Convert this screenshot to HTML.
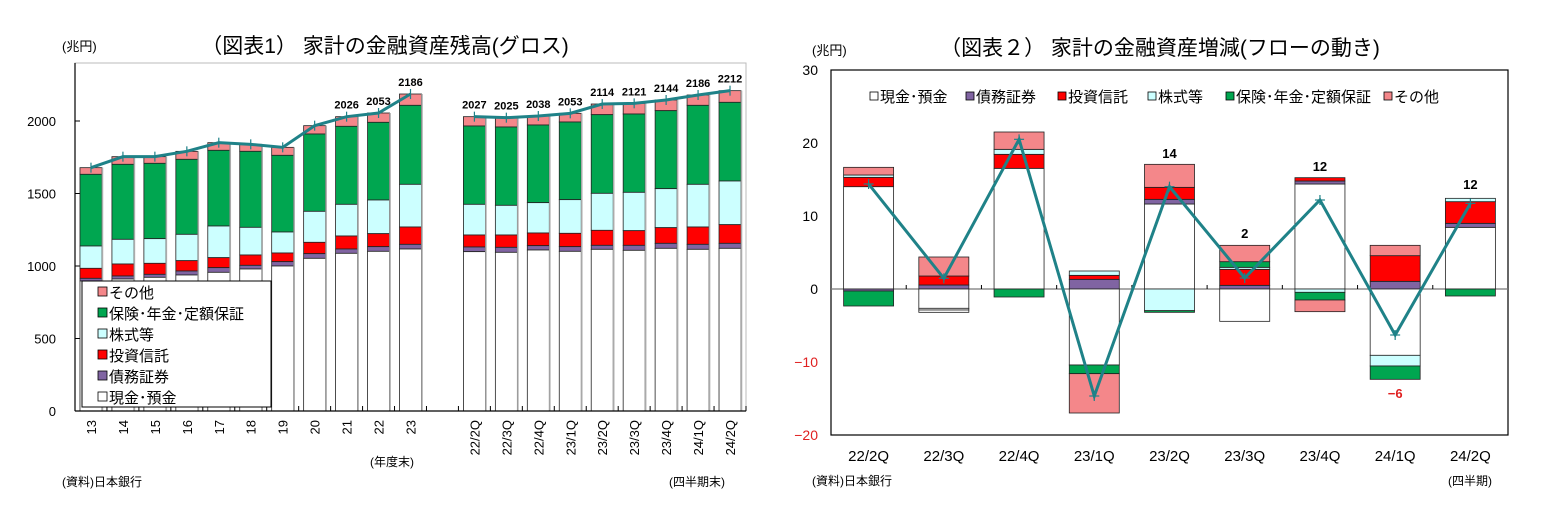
<!DOCTYPE html>
<html><head><meta charset="utf-8">
<style>
html,body{margin:0;padding:0;background:#fff;}
svg{display:block;font-family:"Liberation Sans","Noto Sans CJK JP",sans-serif;}
</style></head>
<body>
<svg id="s" width="1546" height="515" xmlns="http://www.w3.org/2000/svg">
<rect width="1546" height="515" fill="#fff"/>
<text x="62" y="51" font-size="13">(兆円)</text>
<text x="385" y="53" font-size="21" text-anchor="middle">（図表1） 家計の金融資産残高(グロス)</text>
<text x="812" y="55" font-size="13">(兆円)</text>
<text x="1160" y="55" font-size="21" text-anchor="middle">（図表２） 家計の金融資産増減(フローの動き)</text>
<g id="g1"></g><g id="g2"></g>
</svg>
<script>
const NS="http://www.w3.org/2000/svg";
function el(p,t,a,txt){const e=document.createElementNS(NS,t);for(const k in a)e.setAttribute(k,a[k]);if(txt!==undefined)e.textContent=txt;p.appendChild(e);return e;}
const C={w:"#ffffff",p:"#8064a2",r:"#ff0000",c:"#ccffff",g:"#00a650",k:"#f4878a"};
const TEAL="#1f8288";
// ---------- Chart 1 ----------
const g1=document.getElementById("g1");
const L=75,R=746,T=63,B=411;
el(g1,"rect",{x:L,y:T,width:R-L,height:B-T,fill:"none",stroke:"#bbb","stroke-width":1});
[0,500,1000,1500,2000].forEach((v,i)=>{const y=B-v*0.145;
 el(g1,"text",{x:56,y:y+5,"font-size":13,"text-anchor":"end"},String(v));
 el(g1,"line",{x1:L,x2:L+5,y1:y,y2:y,stroke:"#000"});});
const ann=[[263,283,498,565,595,603],[230,253,478,552,588,597],[230,250,476,550,583,592],[214,238,463,542,573,585],[188,211,438,533,563,577],[193,214,442,525,556,567],[202,226,456,519,545,558],[137,162,394,487,521,535],[110,139,373,468,507,520],[99,127,360,461,500,514],[42,76,313,441,493,507]];
const qtr=[[110,138,373,465,501,515],[113,141,376,465,502,517],[108,135,368,459,497,510],[100,126,359,460,500,514],[72,104,340,451,496,508],[70,102,337,452,496,511],[60,92,326,443,490,505],[45,76,313,441,493,508],[32,67,303,434,490,505]];
const cw=(R-L)/21;
const bars=[];ann.forEach((b,i)=>bars.push([i,b]));qtr.forEach((b,i)=>bars.push([12+i,b]));
const cols1=["k","g","c","r","p","w"];
const pts=[];
bars.forEach(([i,b])=>{const cx=L+cw*(i+0.5);const ys=b.map(z=>80+z/3);const yy=ys.concat([B]);
 for(let j=0;j<6;j++){el(g1,"rect",{x:cx-11,y:yy[j],width:22,height:yy[j+1]-yy[j],fill:C[cols1[j]],stroke:"#222","stroke-width":0.8});}
 el(g1,"line",{x1:cx+11.5,x2:cx+11.5,y1:yy[0],y2:B,stroke:"#aaa","stroke-width":1.5});
 pts.push([cx,ys[0]]);});
for(let i=0;i<=21;i++){const x=L+cw*i;el(g1,"line",{x1:x,x2:x,y1:B,y2:B-5,stroke:"#000"});}
el(g1,"line",{x1:L,x2:L,y1:T,y2:B,stroke:"#000","stroke-width":1.2});
el(g1,"line",{x1:L,x2:R,y1:B,y2:B,stroke:"#000","stroke-width":1.2});
const a1=pts.slice(0,11),a2=pts.slice(11);
[a1,a2].forEach(a=>{el(g1,"polyline",{points:a.map(p=>p.join(",")).join(" "),fill:"none",stroke:TEAL,"stroke-width":3});
 a.forEach(p=>{el(g1,"line",{x1:p[0],x2:p[0],y1:p[1]-5,y2:p[1]+5,stroke:TEAL,"stroke-width":1.2});});});
const lab=[[8,"2026"],[9,"2053"],[10,"2186"]];
lab.forEach(([k,t])=>{el(g1,"text",{x:pts[k][0],y:pts[k][1]-8,"font-size":11,"font-weight":"bold","text-anchor":"middle"},t);});
["2027","2025","2038","2053","2114","2121","2144","2186","2212"].forEach((t,j)=>{const p=pts[11+j];el(g1,"text",{x:p[0],y:p[1]-8,"font-size":11,"font-weight":"bold","text-anchor":"middle"},t);});
const xl=["13","14","15","16","17","18","19","20","21","22","23"];
xl.forEach((t,i)=>{const cx=L+cw*(i+0.5);el(g1,"text",{x:0,y:0,"font-size":13,"text-anchor":"end",transform:`translate(${cx+5},${420}) rotate(-90)`},t);});
["22/2Q","22/3Q","22/4Q","23/1Q","23/2Q","23/3Q","23/4Q","24/1Q","24/2Q"].forEach((t,j)=>{const cx=L+cw*(12+j+0.5);el(g1,"text",{x:0,y:0,"font-size":13,"text-anchor":"end",transform:`translate(${cx+5},${420}) rotate(-90)`},t);});
el(g1,"text",{x:370,y:466,"font-size":12},"(年度末)");
el(g1,"text",{x:669,y:486,"font-size":12},"(四半期末)");
el(g1,"text",{x:62,y:486,"font-size":12},"(資料)日本銀行");
el(g1,"rect",{x:82,y:281,width:189,height:126,fill:"#fff",stroke:"#000","stroke-width":1});
const leg1=[["k","その他"],["g","保険･年金･定額保証"],["c","株式等"],["r","投資信託"],["p","債務証券"],["w","現金･預金"]];
leg1.forEach(([c,t],i)=>{const y=292+i*21;el(g1,"rect",{x:98,y:y-5,width:9,height:9,fill:C[c],stroke:"#000","stroke-width":0.8});
 el(g1,"text",{x:109,y:y+6,"font-size":15},t);});
// ---------- Chart 2 ----------
const g2=document.getElementById("g2");
const L2=831,R2=1508,T2=70,B2=435,Z=289;
el(g2,"rect",{x:L2,y:T2,width:R2-L2,height:B2-T2,fill:"none",stroke:"#000","stroke-width":1.2});
[[30,"#000"],[20,"#000"],[10,"#000"],[0,"#000"],[-10,"#e02020"],[-20,"#e02020"]].forEach(([v,c])=>{const y=Z-v*7.3;
 el(g2,"text",{x:818,y:y+5,"font-size":14,"text-anchor":"end",fill:c},String(v).replace("-","−"));});
el(g2,"line",{x1:L2,x2:R2,y1:Z,y2:Z,stroke:"#777","stroke-width":1.2});
const cw2=(R2-L2)/9;
for(let i=1;i<9;i++){const x=L2+cw2*i;el(g2,"line",{x1:x,x2:x,y1:Z,y2:Z-4,stroke:"#000"});}
const segs=[
 [["w",380,687],["r",352,380],["c",345,352],["k",322,345],["p",687,693],["g",693,738]],
 [["p",675,687],["r",648,675],["k",591,648],["w",687,745],["w",745,750],["w",750,757]],
 [["w",325,687],["r",283,325],["c",268,283],["k",216,268],["g",687,711]],
 [["p",658,687],["r",646,658],["c",633,646],["w",687,915],["g",915,941],["k",941,1059]],
 [["w",432,687],["p",418,432],["r",382,418],["k",313,382],["c",687,752],["g",752,757]],
 [["p",676,687],["r",628,676],["c",622,628],["g",605,622],["k",556,605],["w",687,784]],
 [["w",372,687],["p",363,372],["r",353,363],["c",687,697],["g",697,720],["k",720,755]],
 [["p",664,687],["r",587,664],["k",556,587],["w",687,886],["c",886,918],["g",918,958]],
 [["w",502,687],["p",490,502],["r",425,490],["c",415,425],["g",687,708]]];
const lp=[372,655,238,1008,380,654,420,825,430];
const p2=[];
segs.forEach((s,i)=>{const cx=L2+cw2*(i+0.5);
 s.forEach(([c,a,b])=>{el(g2,"rect",{x:cx-25,y:60+a/3,width:50,height:(b-a)/3,fill:C[c],stroke:"#222","stroke-width":0.8});});
 p2.push([cx,60+lp[i]/3]);});
el(g2,"polyline",{points:p2.map(p=>p.join(",")).join(" "),fill:"none",stroke:TEAL,"stroke-width":3});
p2.forEach(p=>{el(g2,"line",{x1:p[0]-5,x2:p[0]+5,y1:p[1],y2:p[1],stroke:TEAL,"stroke-width":1.2});el(g2,"line",{x1:p[0],x2:p[0],y1:p[1]-5,y2:p[1]+5,stroke:TEAL,"stroke-width":1.2});});
[[4,"14",158,"#000"],[5,"2",238,"#000"],[6,"12",171,"#000"],[7,"−6",398,"#e02020"],[8,"12",189,"#000"]].forEach(([i,t,y,c])=>{
 el(g2,"text",{x:L2+cw2*(i+0.5),y:y,"font-size":13,"font-weight":"bold","text-anchor":"middle",fill:c},t);});
["22/2Q","22/3Q","22/4Q","23/1Q","23/2Q","23/3Q","23/4Q","24/1Q","24/2Q"].forEach((t,i)=>{el(g2,"text",{x:L2+cw2*(i+0.5),y:461,"font-size":15,"text-anchor":"middle"},t);});
el(g2,"text",{x:812,y:485,"font-size":12},"(資料)日本銀行");
el(g2,"text",{x:1448,y:485,"font-size":12},"(四半期)");
const leg2=[["w","現金･預金",870],["p","債務証券",966],["r","投資信託",1058],["c","株式等",1148],["g","保険･年金･定額保証",1226],["k","その他",1384]];
leg2.forEach(([c,t,lx])=>{el(g2,"rect",{x:lx,y:92,width:8,height:8,fill:C[c],stroke:"#000","stroke-width":0.8});
 el(g2,"text",{x:lx+10,y:102,"font-size":15},t);});
</script>
</body></html>
